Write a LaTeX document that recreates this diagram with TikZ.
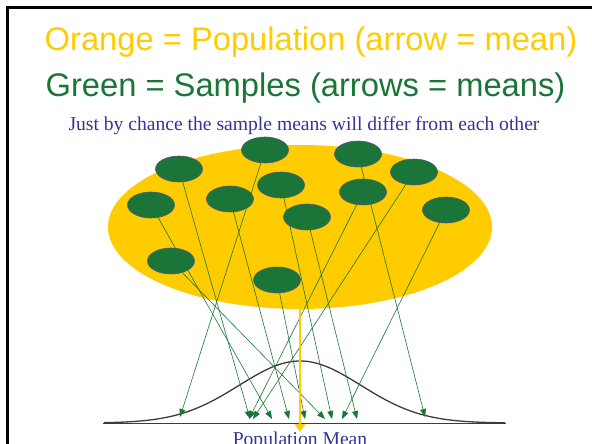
\documentclass[tikz,border=0pt]{standalone}
\usepackage{fontspec}
\setmainfont{Liberation Serif}
\newfontfamily\slidefont{Liberation Sans}
\usetikzlibrary{arrows.meta,shapes.geometric}
\definecolor{popyellow}{RGB}{255,204,0}
\definecolor{samplegreen}{RGB}{27,117,56}
\definecolor{notenavy}{RGB}{51,51,153}
\definecolor{rimgray}{RGB}{85,85,120}
\definecolor{curvegray}{RGB}{60,60,60}

\begin{document}
\begin{tikzpicture}[
  x=1pt,y=-1pt,
  sample/.style={ellipse,draw=rimgray,line width=0.6pt,fill=samplegreen,minimum width=47pt,minimum height=26pt,inner sep=0pt},
  samplemean/.style={draw=samplegreen,line width=0.6pt,-{Triangle[length=8pt,width=6pt]}},
  popmean/.style={draw=popyellow,line width=2.6pt,-{Triangle[length=8pt,width=10pt]}},
  headline/.style={font=\slidefont\fontsize{32.7}{39}\selectfont,anchor=base,inner sep=0pt},
  note/.style={font=\fontsize{19.6}{23}\selectfont,text=notenavy,anchor=base,inner sep=0pt}]
  \useasboundingbox(0,0)rectangle(592,444);
  \draw[line width=2.5pt](7.5,444)--(7.5,7.5)--(592,7.5);
  % titles
  \node[headline,text=popyellow](t1) at(311,51){Orange = Population (arrow = mean)};
  \node[headline,text=samplegreen](t2) at(305.5,96){Green = Samples (arrows = means)};
  \node[note](t3) at(304,130){Just by chance the sample means will differ from each other};
  % population and samples
  \node[ellipse,fill=popyellow,minimum width=384pt,minimum height=164pt,inner sep=0pt](pop) at(300,227){};
  \node[sample](s1) at(179,169){};
  \node[sample](s2) at(265,150){};
  \node[sample](s3) at(358,154){};
  \node[sample](s4) at(414,172){};
  \node[sample](s5) at(151,205){};
  \node[sample](s6) at(230,199){};
  \node[sample](s7) at(281,185){};
  \node[sample](s8) at(363,192){};
  \node[sample](s9) at(307,217){};
  \node[sample](s10) at(446,210){};
  \node[sample](s11) at(171,261){};
  \node[sample](s12) at(277,280){};
  % sampling distribution
  \draw[curvegray,line width=1pt](103,423)--(506,423);
  \draw[curvegray,line width=1.3pt]plot[domain=104:505,samples=90,smooth](\x,{423-62*exp(-0.5*((\x-300)/61)^2)});
  \coordinate(m1) at(250,419);\coordinate(m2) at(180,417);\coordinate(m3) at(425,417);
  \coordinate(m4) at(253,419);\coordinate(m5) at(272,419);\coordinate(m6) at(289,419);
  \coordinate(m7) at(332,419);\coordinate(m8) at(249,419);\coordinate(m9) at(357,419);
  \coordinate(m10) at(342,419);\coordinate(m11) at(325,419);\coordinate(m12) at(305,419);
  \draw[samplemean](s1)--(m1);\draw[samplemean](s2)--(m2);\draw[samplemean](s3)--(m3);
  \draw[samplemean](s4)--(m4);\draw[samplemean](s5)--(m5);\draw[samplemean](s6)--(m6);
  \draw[samplemean](s7)--(m7);\draw[samplemean](s8)--(m8);\draw[samplemean](s9)--(m9);
  \draw[samplemean](s10)--(m10);\draw[samplemean](s11)--(m11);\draw[samplemean](s12)--(m12);
  \coordinate(mu) at(300,432);
  \draw[popmean](pop)--(mu);
  \node[note](t4) at(300,445){Population Mean};
\end{tikzpicture}
\end{document}
